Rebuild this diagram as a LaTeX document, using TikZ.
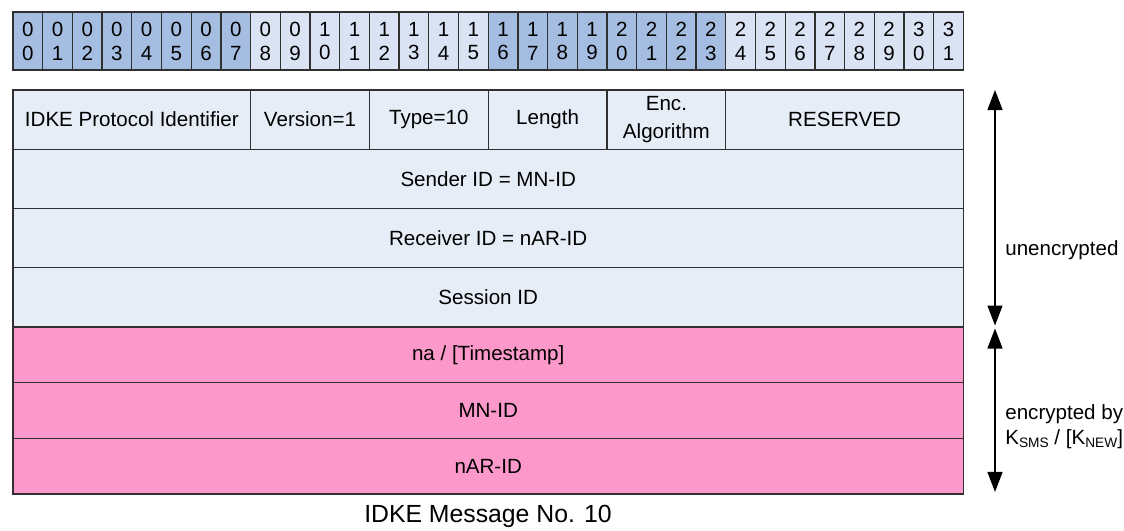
\documentclass[tikz,border=0pt]{standalone}
\usepackage{fontspec}
\setmainfont{Liberation Sans}
\usetikzlibrary{arrows.meta,positioning}

\definecolor{bitdark}{HTML}{A4BDE0}
\definecolor{bitlight}{HTML}{DAE3F3}
\definecolor{plainfill}{HTML}{E6EDF7}
\definecolor{cryptfill}{HTML}{FD99CA}
\definecolor{edgegray}{HTML}{303030}

\newcommand{\keysub}[1]{\raisebox{-0.25ex}{\fontsize{7.8}{8}\selectfont #1}}

\tikzset{
    bitcell/.style={draw=edgegray, line width=0.7pt, minimum width=0.594cm, minimum height=1.16cm,
        inner sep=0pt, outer sep=0pt, align=center, font=\fontsize{11.7}{13.6}\selectfont},
    field/.style={draw=edgegray, line width=0.7pt, fill=plainfill, minimum height=1.185cm,
        inner sep=0pt, outer sep=0pt, align=center, font=\fontsize{11.7}{16.2}\selectfont},
    fullrow/.style={field, minimum width=19.008cm, anchor=north west},
    cryptrow/.style={fullrow, fill=cryptfill, minimum height=1.113cm},
    sizearrow/.style={{Triangle[length=0.4cm,width=0.3cm]}-{Triangle[length=0.4cm,width=0.3cm]}, line width=0.7pt},
    sidelabel/.style={anchor=west, align=left, inner sep=0pt, font=\fontsize{11.7}{14.2}\selectfont}
}

\begin{document}
\begin{tikzpicture}
    \useasboundingbox (0,0) rectangle (22.48,-10.62);

    % bit numbers
    \foreach \i in {0,...,31}{
        \pgfmathtruncatemacro\tens{\i/10}
        \pgfmathtruncatemacro\ones{mod(\i,10)}
        \pgfmathtruncatemacro\grp{mod(floor(\i/8),2)}
        \ifnum\grp=0 \def\cellcol{bitdark}\else\def\cellcol{bitlight}\fi
        \node[bitcell, fill=\cellcol, anchor=north west] (b\i) at (0.26+0.594*\i,-0.24) {\tens\\\ones};
    }

    % header fields
    \node[field, minimum width=4.752cm, anchor=north west] (proto) at (0.26,-1.80) {IDKE Protocol Identifier};
    \node[field, minimum width=2.376cm, right=0pt of proto] (version) {Version=1};
    \node[field, minimum width=2.376cm, right=0pt of version] (type) {Type=10};
    \node[field, minimum width=2.376cm, right=0pt of type] (length) {Length};
    \node[field, minimum width=2.376cm, right=0pt of length] (encalg) {Enc.\\Algorithm};
    \node[field, minimum width=4.752cm, right=0pt of encalg] (reserved) {RESERVED};

    \node[fullrow] (sender) at (proto.south west) {Sender ID = MN-ID};
    \node[fullrow] (receiver) at (sender.south west) {Receiver ID = nAR-ID};
    \node[fullrow] (session) at (receiver.south west) {Session ID};

    % encrypted part
    \node[cryptrow] (nonce) at (session.south west) {na / [Timestamp]};
    \node[cryptrow] (mnid) at (nonce.south west) {MN-ID};
    \node[cryptrow] (narid) at (mnid.south west) {nAR-ID};

    \node[font=\fontsize{14.1}{17}\selectfont] (caption) at (9.76,-10.32) {IDKE Message No. 10};

    % extent arrows
    \coordinate (plaintop) at ([xshift=0.632cm]session.east |- reserved.north);
    \coordinate (plainbot) at ([xshift=0.632cm,yshift=0.03cm]session.south east);
    \coordinate (crypttop) at ([xshift=0.632cm,yshift=-0.03cm]nonce.north east);
    \coordinate (cryptbot) at ([xshift=0.632cm,yshift=0.04cm]narid.south east);
    \draw[sizearrow] (plaintop) -- (plainbot);
    \draw[sizearrow] (crypttop) -- (cryptbot);

    \node[sidelabel] (plainlbl) at (20.10,-5.00) {unencrypted};
    \node[sidelabel] (cryptlbl) at (20.10,-8.54) {encrypted by\\K\keysub{SMS} / [K\keysub{NEW}]};
\end{tikzpicture}
\end{document}
